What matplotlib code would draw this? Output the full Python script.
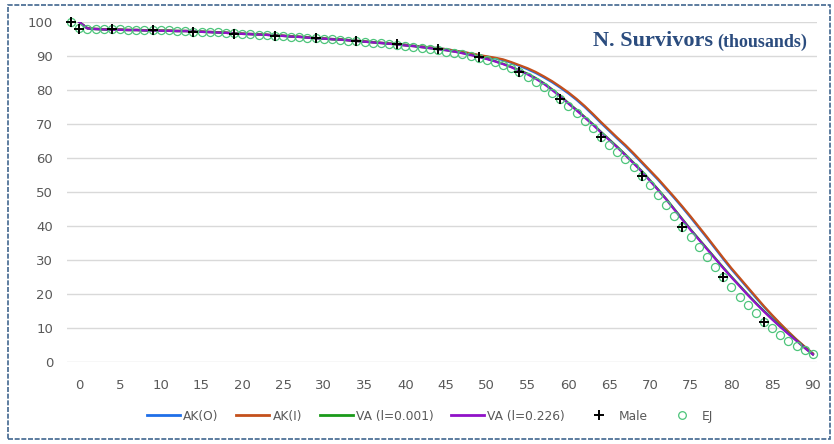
import matplotlib
matplotlib.use("Agg")
import matplotlib.pyplot as plt
from matplotlib.patches import Rectangle
from matplotlib.lines import Line2D

# ages for the model curves (one value per year)
ages = list(range(0, 91))

# VA (l=0.226) - purple
va_226 = [100.0, 98.1, 97.9, 97.8, 97.7, 97.7, 97.6, 97.6, 97.5, 97.5,
          97.4, 97.4, 97.3, 97.3, 97.2, 97.1, 97.0, 96.9, 96.8, 96.6,
          96.5, 96.4, 96.3, 96.2, 96.0, 95.9, 95.7, 95.6, 95.4, 95.2,
          95.1, 94.9, 94.8, 94.6, 94.4, 94.2, 94.0, 93.8, 93.6, 93.4,
          93.1, 92.9, 92.6, 92.3, 92.0, 91.7, 91.3, 90.8, 90.3, 89.7,
          89.1, 88.4, 87.6, 86.7, 85.6, 84.6, 83.3, 81.8, 80.0, 78.1,
          76.0, 74.0, 71.9, 69.8, 67.5, 65.3, 63.1, 60.8, 58.4, 56.0,
          53.3, 50.6, 47.8, 44.8, 41.8, 38.8, 36.0, 33.2, 30.4, 27.6,
          24.9, 22.3, 19.7, 17.2, 14.8, 12.5, 10.3, 8.2, 6.2, 4.1, 2.2]

# VA (l=0.001) - green, almost hidden under the purple line
va_001 = [100.0, 98.1, 97.9, 97.8, 97.7, 97.7, 97.6, 97.6, 97.5, 97.5,
          97.4, 97.4, 97.3, 97.3, 97.2, 97.1, 97.0, 96.9, 96.8, 96.6,
          96.5, 96.4, 96.3, 96.2, 96.0, 95.9, 95.7, 95.6, 95.4, 95.2,
          95.1, 94.9, 94.8, 94.6, 94.4, 94.2, 94.0, 93.8, 93.6, 93.4,
          93.1, 92.9, 92.6, 92.3, 92.0, 91.7, 91.3, 90.9, 90.4, 89.8,
          89.2, 88.5, 87.7, 86.8, 85.8, 84.8, 83.5, 82.0, 80.2, 78.3,
          76.2, 74.2, 72.1, 70.0, 67.7, 65.5, 63.3, 61.0, 58.6, 56.2,
          53.5, 50.8, 48.0, 45.0, 42.0, 39.0, 36.2, 33.4, 30.6, 27.8,
          25.1, 22.5, 19.9, 17.4, 15.0, 12.7, 10.5, 8.4, 6.3, 4.2, 2.2]

# AK(I) - red/orange
ak_i = [100.0, 98.2, 98.0, 97.9, 97.8, 97.8, 97.7, 97.7, 97.6, 97.6,
        97.5, 97.5, 97.4, 97.4, 97.3, 97.2, 97.1, 97.0, 96.9, 96.7,
        96.6, 96.5, 96.4, 96.3, 96.1, 96.0, 95.8, 95.7, 95.5, 95.3,
        95.2, 95.0, 94.9, 94.7, 94.5, 94.3, 94.1, 93.9, 93.7, 93.5,
        93.3, 93.0, 92.8, 92.5, 92.3, 92.0, 91.6, 91.2, 90.8, 90.3,
        89.9, 89.5, 89.0, 88.2, 87.3, 86.4, 85.3, 84.0, 82.6, 81.0,
        79.3, 77.4, 75.3, 73.0, 70.6, 68.3, 66.0, 63.8, 61.4, 58.9,
        56.4, 53.9, 51.2, 48.5, 45.7, 42.8, 39.8, 36.8, 33.7, 30.6,
        27.6, 24.8, 22.0, 19.2, 16.4, 13.8, 11.3, 8.9, 6.6, 4.5, 2.5]

# AK(O) - blue, mostly under the AK(I) line
ak_o = [100.0, 98.2, 98.0, 97.9, 97.8, 97.8, 97.7, 97.7, 97.6, 97.6,
        97.5, 97.5, 97.4, 97.4, 97.3, 97.2, 97.1, 97.0, 96.9, 96.7,
        96.6, 96.5, 96.4, 96.3, 96.1, 96.0, 95.8, 95.7, 95.5, 95.3,
        95.2, 95.0, 94.9, 94.7, 94.5, 94.3, 94.1, 93.9, 93.7, 93.5,
        93.3, 93.0, 92.8, 92.5, 92.3, 92.0, 91.6, 91.2, 90.7, 90.2,
        89.8, 89.3, 88.8, 88.0, 87.1, 86.1, 85.0, 83.7, 82.3, 80.7,
        79.0, 77.1, 75.0, 72.7, 70.3, 68.0, 65.7, 63.5, 61.1, 58.6,
        56.1, 53.6, 50.9, 48.2, 45.4, 42.5, 39.5, 36.5, 33.4, 30.3,
        27.3, 24.5, 21.7, 18.9, 16.2, 13.6, 11.1, 8.7, 6.5, 4.4, 2.5]

# observed data (start one category before age 0)
male_x = [-1, 0, 4, 9, 14, 19, 24, 29, 34, 39, 44, 49, 54, 59, 64, 69, 74, 79, 84]
male_y = [100.0, 98.0, 97.8, 97.5, 97.2, 96.6, 96.0, 95.2, 94.5, 93.5,
          92.1, 89.7, 85.2, 77.4, 66.1, 54.7, 39.8, 25.0, 11.9]

ej_x = list(range(-1, 91))
ej_y = [100.0, 98.1, 98.0, 97.9, 97.9, 97.8, 97.8, 97.7, 97.7, 97.6, 97.6,
        97.5, 97.5, 97.4, 97.3, 97.2, 97.2, 97.1, 97.0, 96.9, 96.7,
        96.6, 96.4, 96.3, 96.2, 96.0, 95.8, 95.7, 95.5, 95.3, 95.2,
        95.0, 94.9, 94.7, 94.5, 94.3, 94.1, 93.9, 93.7, 93.4, 93.2,
        92.9, 92.6, 92.3, 92.0, 91.7, 91.3, 90.9, 90.5, 90.0, 89.5,
        88.9, 88.2, 87.4, 86.4, 85.3, 83.9, 82.4, 80.8, 79.2, 77.3,
        75.3, 73.1, 71.0, 68.7, 66.1, 63.8, 61.7, 59.6, 57.3, 54.7,
        52.1, 49.1, 46.1, 42.9, 39.8, 36.9, 33.8, 30.9, 28.0, 25.0,
        22.2, 19.2, 16.8, 14.3, 11.9, 9.9, 7.9, 6.3, 4.8, 3.5, 2.3]

xticks = list(range(0, 91, 5))
yticks = list(range(0, 101, 10))

colors = {
    'ak_o': '#1f6fe8',
    'ak_i': '#c4501c',
    'va_001': '#1a9a1a',
    'va_226': '#9012c8',
    'ej': '#4cc47a',
    'grid': '#d9d9d9',
    'text': '#595959',
    'title': '#2b4c7e',
    'border': '#41668f',
}

fig = plt.figure(figsize=(8.34, 4.44), dpi=100)
ax = fig.add_axes([67 / 834, (444 - 362) / 444, 750 / 834, 340 / 444])

ax.plot(ages, ak_o, color=colors['ak_o'], lw=1.6, zorder=3)
ax.plot(ages, ak_i, color=colors['ak_i'], lw=1.6, zorder=3)
ax.plot(ages, va_001, color=colors['va_001'], lw=1.6, zorder=3)
ax.plot(ages, va_226, color=colors['va_226'], lw=1.6, zorder=3)
ax.plot(ej_x, ej_y, ls='none', marker='o', ms=5.8, mfc='none', mec=colors['ej'],
        mew=0.9, zorder=4, clip_on=False)
ax.plot(male_x, male_y, ls='none', marker='+', ms=6.5, mec='black', mew=1.4,
        zorder=5, clip_on=False)

ax.set_xlim(-1.5, 90.5)
ax.set_ylim(0, 100)
ax.set_xticks(xticks)
ax.set_yticks(yticks)
ax.tick_params(length=0, labelsize=9.5, colors=colors['text'], pad=12)
ax.tick_params(axis='y', pad=10)
ax.grid(axis='y', color=colors['grid'], lw=1)
ax.set_axisbelow(True)
for s in ax.spines.values():
    s.set_visible(False)

# title inside the plot area, two sizes on one baseline
title_y = 0.928
t1 = ax.text(0.987, title_y, 'N. Survivors', transform=ax.transAxes, ha='right',
             va='baseline', fontsize=16, fontweight='bold', family='Liberation Serif',
             color=colors['title'])
t2 = ax.text(0.987, title_y, '(thousands)', transform=ax.transAxes, ha='right',
             va='baseline', fontsize=13, fontweight='bold', family='Liberation Serif',
             color=colors['title'])

# legend
handles = [
    Line2D([], [], color=colors['ak_o'], lw=2),
    Line2D([], [], color=colors['ak_i'], lw=2),
    Line2D([], [], color=colors['va_001'], lw=2),
    Line2D([], [], color=colors['va_226'], lw=2),
    Line2D([], [], ls='none', marker='+', ms=6.5, mec='black', mew=1.4),
    Line2D([], [], ls='none', marker='o', ms=5.5, mfc='none', mec=colors['ej'], mew=0.9),
]
labels = ['AK(O)', 'AK(I)', 'VA (l=0.001)', 'VA (l=0.226)', 'Male', 'EJ']
fig.legend(handles, labels, loc='center', bbox_to_anchor=(430 / 834, 1 - 416 / 444),
           ncol=6, frameon=False, fontsize=8.8, handlelength=2.7, handletextpad=0.25,
           columnspacing=1.45, labelcolor=colors['text'])

# dashed frame round the chart
fig.patches.append(Rectangle((8 / 834, 5 / 444), 822 / 834, 434 / 444,
                             transform=fig.transFigure, fill=False,
                             edgecolor=colors['border'], lw=1.2, ls=(0, (3, 1))))

fig.canvas.draw()
r = fig.canvas.get_renderer()
w2 = t2.get_window_extent(r).width
x_right = ax.transAxes.transform((0.987, 0))[0]
x1 = ax.transAxes.inverted().transform((x_right - w2 - 4, 0))[0]
t1.set_position((x1, title_y))

fig.savefig('out.png', dpi=100)
